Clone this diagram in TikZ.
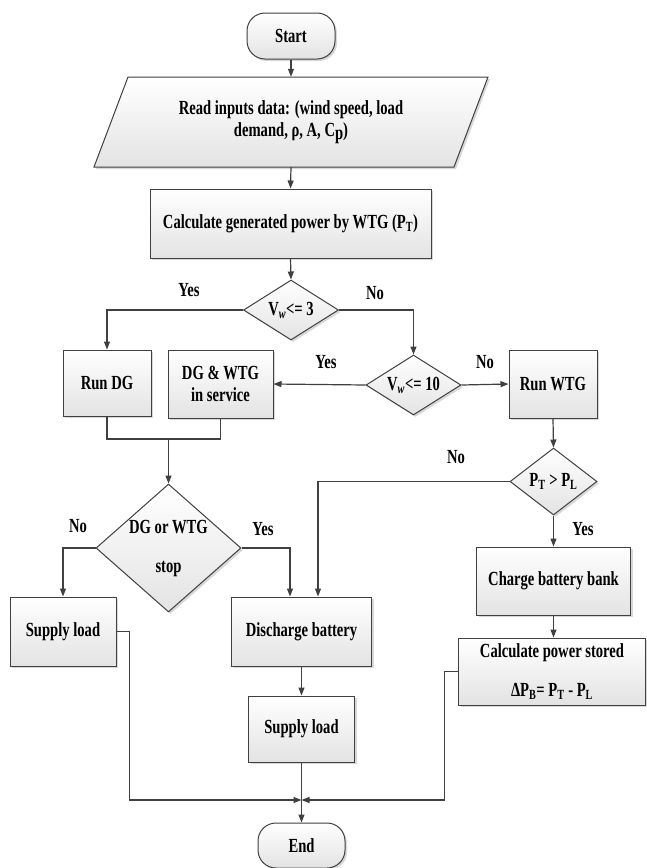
\documentclass[tikz,border=0pt]{standalone}
\usepackage{fontspec}
\setmainfont[FakeStretch=0.73]{Liberation Serif}
\usetikzlibrary{shapes.geometric,arrows.meta,shadows,calc}
\definecolor{linec}{RGB}{64,64,64}
\begin{document}
\begin{tikzpicture}[x=1pt,y=-1pt,
  font=\fontsize{20}{22}\selectfont\bfseries,
  line/.style={draw=linec, line width=1.2pt},
  arr/.style={line, -{Triangle[length=8pt,width=6pt]}},
  shadebox/.style={top color=white, bottom color=gray!22, draw=linec, line width=1pt,
     drop shadow={shadow xshift=2pt,shadow yshift=-2pt,fill=gray!60}},
  box/.style={shadebox, rectangle, align=center, inner sep=0pt},
  dec/.style={shadebox, diamond, align=center, inner sep=0pt},
  term/.style={shadebox, rectangle, rounded corners=18pt, inner sep=0pt},
  lbl/.style={inner sep=0pt}]
\useasboundingbox[fill=white] (0,0) rectangle (646,868);

% nodes
\node[term, minimum width=88pt, minimum height=46pt] (start) at (291,36) {Start};
\path[shadebox] (128,77) -- (488,77) -- (454,167) -- (94,167) -- cycle;
\node[align=center, minimum width=394pt, minimum height=90pt, inner sep=0pt] (read) at (291,122)
  {Read inputs data: (wind speed, load\\demand, ρ, A, C\raisebox{-.3ex}{p})};
\node[box, minimum width=281pt, minimum height=69pt] (calc) at (290.5,223.5)
  {Calculate generated power by WTG (P\textsubscript{T})};
\node[dec, minimum width=95pt, minimum height=60pt, aspect=1.58] (d1) at (291,310)
  {V\textsubscript{\textit{w}}<= 3};
\node[box, minimum width=88pt, minimum height=66pt] (runDG) at (107,383) {Run DG};
\node[box, minimum width=105pt, minimum height=68pt] (dgwtg) at (220.5,384) {DG \& WTG\\in service};
\node[dec, minimum width=95pt, minimum height=60pt, aspect=1.58] (d2) at (413.5,385)
  {V\textsubscript{\textit{w}}<= 10};
\node[box, minimum width=88pt, minimum height=68pt] (runWTG) at (553,384) {Run WTG};
\node[dec, minimum width=87pt, minimum height=67pt, aspect=1.3] (d4) at (553.5,481.5)
  {P\textsubscript{T} > P\textsubscript{L}};
\node[dec, minimum width=145pt, minimum height=128pt, aspect=1.13] (d3) at (168.5,548)
  {DG or WTG\\[17pt]stop};
\node[box, minimum width=106pt, minimum height=69pt] (sl1) at (63,631.5) {Supply load};
\node[box, minimum width=140pt, minimum height=69pt] (dis) at (301.5,631.5) {Discharge battery};
\node[box, minimum width=106pt, minimum height=66pt] (sl2) at (301.5,729) {Supply load};
\node[box, minimum width=154pt, minimum height=68pt] (charge) at (553.5,581) {Charge battery bank};
\node[box, minimum width=187pt, minimum height=67pt] (cps) at (552,671.5)
  {Calculate power stored\\[17pt]ΔP\textsubscript{B}= P\textsubscript{T} - P\textsubscript{L}};
\node[term, minimum width=87pt, minimum height=45pt] (end) at (301.5,845.5) {End};

% labels
\node[lbl] (y1) at (189,290) {Yes};
\node[lbl] (n1) at (375,293) {No};
\node[lbl] (y2) at (326,362) {Yes};
\node[lbl] (n2) at (485,362) {No};
\node[lbl] (n4) at (456,457) {No};
\node[lbl] (n3) at (78,526) {No};
\node[lbl] (y3) at (263,529) {Yes};
\node[lbl] (y4) at (583,529) {Yes};

% connectors
\draw[arr] (start.south) -- (read.north);
\draw[arr] (read.south) -- (calc.north);
\draw[arr] (calc.south) -- (d1.north);
\draw[arr] (d1.west) -| (runDG.north);
\draw[arr] (d1.east) -| (d2.north);
\draw[arr] (d2.west) -- (dgwtg.east);
\draw[arr] (d2.east) -- (runWTG.west);
\coordinate (jm) at (168.5,439);
\draw[line] (runDG.south) |- (jm -| dgwtg.south) -- (dgwtg.south);
\draw[arr] (jm) -- (d3.north);
\draw[arr] (d3.west) -| (sl1.north);
\draw[arr] (d3.east) -| ([xshift=-11.5pt]dis.north);
\draw[arr] (runWTG.south) -- (d4.north);
\draw[arr] (d4.west) -| ([xshift=16.5pt]dis.north);
\draw[arr] (d4.south) -- (charge.north);
\draw[arr] (charge.south) -- (cps.north -| charge.south);
\draw[arr] (dis.south) -- (sl2.north);
\coordinate (jn) at (301.5,800);
\draw[arr] (sl2.south) -- (end.north);
\draw[arr] (sl1.east) -- ++(13,0) |- (jn);
\draw[arr] (cps.west) -- ++(-13.5,0) |- (jn);
\end{tikzpicture}
\end{document}
